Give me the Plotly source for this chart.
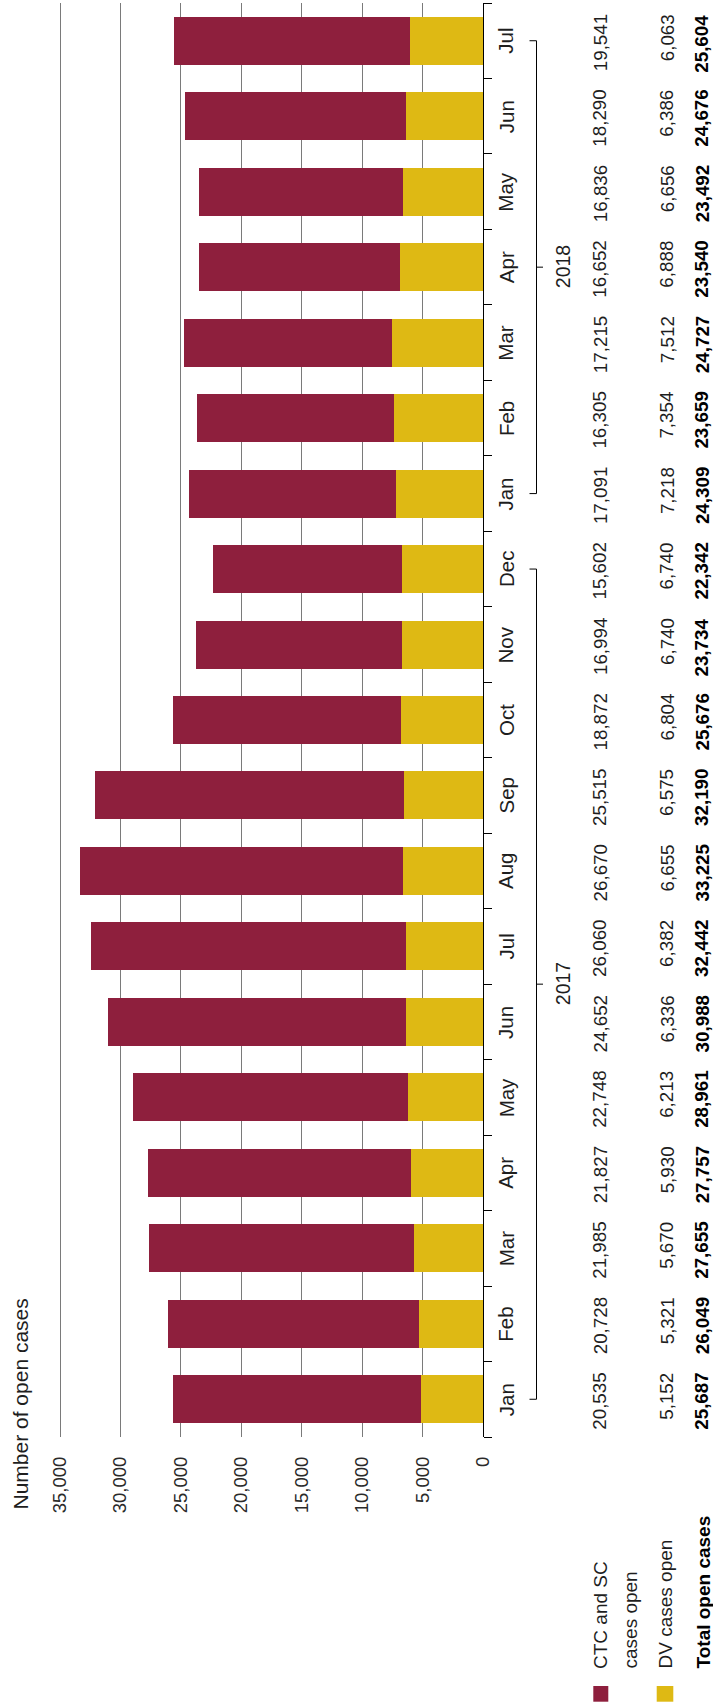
import plotly.graph_objects as go

months = ["Jan", "Feb", "Mar", "Apr", "May", "Jun", "Jul", "Aug", "Sep", "Oct", "Nov", "Dec",
          "Jan", "Feb", "Mar", "Apr", "May", "Jun", "Jul"]
years = ["2017"] * 12 + ["2018"] * 7
categories = [f"{m} {y}" for m, y in zip(months, years)]
ctc_sc = [20535, 20728, 21985, 21827, 22748, 24652, 26060, 26670, 25515, 18872, 16994, 15602,
          17091, 16305, 17215, 16652, 16836, 18290, 19541]
dv = [5152, 5321, 5670, 5930, 6213, 6336, 6382, 6655, 6575, 6804, 6740, 6740,
      7218, 7354, 7512, 6888, 6656, 6386, 6063]
total = [25687, 26049, 27655, 27757, 28961, 30988, 32442, 33225, 32190, 25676, 23734, 22342,
         24309, 23659, 24727, 23540, 23492, 24676, 25604]
value_ticks = [0, 5000, 10000, 15000, 20000, 25000, 30000, 35000]
series_names = ["CTC and SC cases open", "DV cases open"]
row_total_label = "Total open cases"
axis_title = "Number of open cases"

MAROON = "#8E1F3D"
YELLOW = "#DEB914"
TXT = "#1e1e1e"
FONT = "Liberation Sans, Arial, sans-serif"

W, H = 713, 1705
L, R, T, B = 40, 230, 3, 268
PW = W - L - R
PH = H - T - B


def px(xp):
    return (xp - L) / PW


def py(yp):
    return (H - B - yp) / PH


fig = go.Figure()
fig.add_trace(go.Bar(y=categories, x=dv, orientation="h", marker_color=YELLOW,
                     marker_line_width=0, name=series_names[1], hoverinfo="skip"))
fig.add_trace(go.Bar(y=categories, x=ctc_sc, orientation="h", marker_color=MAROON,
                     marker_line_width=0, name=series_names[0], hoverinfo="skip"))

ann = []
shapes = []
for i, (c, m) in enumerate(zip(categories, months)):
    ann.append(dict(x=px(506), xref="paper", y=c, yref="y", text=m, textangle=-90,
                    showarrow=False, xanchor="center", yanchor="middle",
                    font=dict(size=20.5, color=TXT, family=FONT)))
    ann.append(dict(x=px(600), xref="paper", y=c, yref="y", text=f"{ctc_sc[i]:,}",
                    textangle=-90, showarrow=False, xanchor="center", yanchor="top", yshift=28,
                    font=dict(size=18.8, color=TXT, family=FONT)))
    ann.append(dict(x=px(667), xref="paper", y=c, yref="y", text=f"{dv[i]:,}",
                    textangle=-90, showarrow=False, xanchor="center", yanchor="top", yshift=28,
                    font=dict(size=18.8, color=TXT, family=FONT)))
    ann.append(dict(x=px(702), xref="paper", y=c, yref="y", text=f"<b>{total[i]:,}</b>",
                    textangle=-90, showarrow=False, xanchor="center", yanchor="top", yshift=28,
                    font=dict(size=18.8, color="#000", family=FONT)))

for yr in ["2017", "2018"]:
    idx = [i for i, y in enumerate(years) if y == yr]
    i0, i1 = idx[0], idx[-1]
    mid = (i0 + i1) / 2
    xl = px(536.5)
    shapes.append(dict(type="line", xref="paper", yref="y", x0=xl, x1=xl, y0=i0, y1=i1,
                       line=dict(color="#000", width=1)))
    for yy in (i0, i1):
        shapes.append(dict(type="line", xref="paper", yref="y", x0=px(529.5), x1=xl, y0=yy, y1=yy,
                           line=dict(color="#000", width=1)))
    shapes.append(dict(type="line", xref="paper", yref="y", x0=xl, x1=px(543), y0=mid, y1=mid,
                       line=dict(color="#000", width=1)))
    ann.append(dict(x=px(563), xref="paper", y=mid, yref="y", text=yr, textangle=-90,
                    showarrow=False, xanchor="center", yanchor="middle",
                    font=dict(size=19.5, color=TXT, family=FONT)))

ann.append(dict(x=px(20), xref="paper", y=py(1512), yref="paper", text=axis_title, textangle=-90,
                showarrow=False, xanchor="center", yanchor="bottom",
                font=dict(size=21, color=TXT, family=FONT)))

ann.append(dict(x=px(600), xref="paper", y=py(1671), yref="paper", text="CTC and SC", textangle=-90,
                showarrow=False, xanchor="center", yanchor="bottom",
                font=dict(size=19, color=TXT, family=FONT)))
ann.append(dict(x=px(630), xref="paper", y=py(1671), yref="paper", text="cases open", textangle=-90,
                showarrow=False, xanchor="center", yanchor="bottom",
                font=dict(size=19, color=TXT, family=FONT)))
ann.append(dict(x=px(665), xref="paper", y=py(1671), yref="paper", text=series_names[1], textangle=-90,
                showarrow=False, xanchor="center", yanchor="bottom",
                font=dict(size=19, color=TXT, family=FONT)))
ann.append(dict(x=px(703), xref="paper", y=py(1671), yref="paper", text=f"<b>{row_total_label}</b>",
                textangle=-90, showarrow=False, xanchor="center", yanchor="bottom",
                font=dict(size=19, color="#000", family=FONT)))
shapes.append(dict(type="rect", xref="paper", yref="paper", x0=px(593.3), x1=px(608.3),
                   y0=py(1686), y1=py(1701.7), fillcolor=MAROON, line=dict(width=0)))
shapes.append(dict(type="rect", xref="paper", yref="paper", x0=px(656.7), x1=px(673.3),
                   y0=py(1686), y1=py(1701.7), fillcolor=YELLOW, line=dict(width=0)))

x_max = PW / (423 / 35000)

fig.update_layout(
    width=W, height=H,
    margin=dict(l=L, r=R, t=T, b=B, pad=0),
    paper_bgcolor="white", plot_bgcolor="white",
    barmode="stack", bargap=0.364,
    showlegend=False,
    annotations=ann, shapes=shapes,
    font=dict(family=FONT, color=TXT),
    xaxis=dict(range=[x_max, 0], autorange=False, tickvals=value_ticks, tickformat=",d",
               tickangle=-90, showgrid=True, gridcolor="#7a7a7a", gridwidth=1.2,
               zeroline=False, showline=False, ticks="", ticklabelstandoff=15,
               tickfont=dict(size=18.5, color="#2a2a2a", family=FONT)),
    yaxis=dict(type="category", categoryorder="array", categoryarray=categories,
               side="right", showline=True, linecolor="#000", linewidth=1.2,
               ticks="outside", tickson="boundaries", ticklen=8, tickcolor="#000", tickwidth=1,
               showticklabels=False, showgrid=False, zeroline=False),
)

fig.write_html("out.html")
